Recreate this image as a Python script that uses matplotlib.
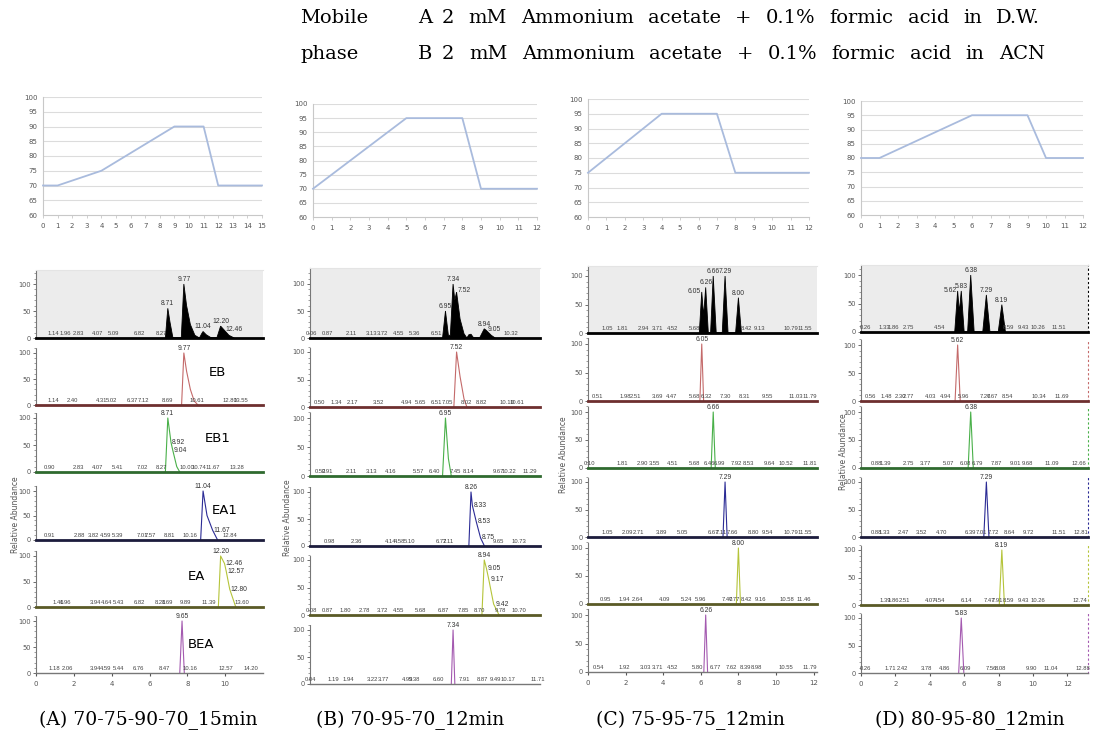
import matplotlib
matplotlib.use('Agg')
import matplotlib.pyplot as plt
from matplotlib.ticker import MultipleLocator

W, H = 1107, 747

# ---- gradient programs (% mobile phase B vs time, min) ----
grad_a_t = [0, 1, 4, 9, 11, 12, 15]
grad_a_b = [70, 70, 75, 90, 90, 70, 70]
grad_b_t = [0, 5, 8, 9, 12]
grad_b_b = [70, 95, 95, 70, 70]
grad_c_t = [0, 4, 7, 8, 12]
grad_c_b = [75, 95, 95, 75, 75]
grad_d_t = [0, 1, 6, 9, 10, 12]
grad_d_b = [80, 80, 95, 95, 80, 80]
grad_xmax = [15, 12, 12, 12]

compounds = ['EB', 'EB1', 'EA1', 'EA', 'BEA']
captions = ['(A) 70-75-90-70_15min', '(B) 70-95-70_12min',
            '(C) 75-95-75_12min', '(D) 80-95-80_12min']
header_1 = ['Mobile', 'A', '2 mM Ammonium acetate + 0.1% formic acid in D.W.']
header_2 = ['phase', 'B', '2 mM Ammonium acetate + 0.1% formic acid in ACN']

# ---- chromatograms: [TIC, EB, EB1, EA1, EA, BEA] ----
# vertex times / relative intensities, labelled peak RTs, baseline RT labels
a_t = [[8.55, 8.71, 8.85, 9.05, 9.6, 9.77, 9.95, 10.2, 10.5, 10.8, 10.95, 11.04, 11.25, 11.6,
        11.95, 12.2, 12.46, 12.75, 13.1],
       [9.62, 9.77, 9.95, 10.2, 10.45, 10.7],
       [8.55, 8.71, 8.92, 9.04, 9.3, 9.5],
       [10.88, 11.04, 11.3, 11.67, 12.0],
       [12.05, 12.20, 12.46, 12.57, 12.80, 13.2],
       [9.5, 9.65, 9.8]]
a_i = [[0, 55, 30, 0, 0, 100, 60, 25, 5, 0, 8, 12, 6, 0, 0, 22, 14, 5, 0],
       [0, 100, 65, 30, 8, 0],
       [0, 100, 55, 40, 10, 0],
       [0, 100, 50, 20, 0],
       [0, 100, 85, 70, 35, 0],
       [0, 100, 0]]
a_pk = [[8.71, 9.77, 11.04, 12.20, 12.46], [9.77], [8.71, 8.92, 9.04], [11.04, 11.67],
        [12.20, 12.46, 12.57, 12.80], [9.65]]
a_rt = [[1.14, 1.96, 2.83, 4.07, 5.09, 6.82, 8.27],
        [1.14, 2.40, 4.31, 5.02, 6.37, 7.12, 8.69, 10.61, 12.80, 13.55],
        [0.90, 2.83, 4.07, 5.41, 7.02, 8.27, 10.00, 10.74, 11.67, 13.28],
        [0.91, 2.88, 3.82, 4.59, 5.39, 7.01, 7.57, 8.81, 10.16, 12.84],
        [1.46, 1.96, 3.94, 4.64, 5.43, 6.82, 8.21, 8.69, 9.89, 11.39, 13.60],
        [1.18, 2.06, 3.94, 4.59, 5.44, 6.76, 8.47, 10.16, 12.57, 14.20]]

b_t = [[6.8, 6.95, 7.1, 7.2, 7.34, 7.43, 7.52, 7.7, 7.9, 8.05, 8.15, 8.26, 8.4, 8.7, 8.94, 9.05,
        9.3, 9.5],
       [7.38, 7.52, 7.7, 7.9, 8.05],
       [6.8, 6.95, 7.1, 7.25],
       [8.15, 8.26, 8.33, 8.53, 8.75, 8.95],
       [8.82, 8.94, 9.05, 9.17, 9.42, 9.7],
       [7.25, 7.34, 7.43]]
b_i = [[0, 50, 5, 5, 100, 70, 85, 35, 8, 0, 6, 7, 0, 0, 17, 14, 5, 0],
       [0, 100, 55, 15, 0],
       [0, 100, 30, 0],
       [0, 100, 75, 45, 15, 0],
       [0, 100, 85, 65, 20, 0],
       [0, 100, 0]]
b_pk = [[6.95, 7.34, 7.52, 8.94, 9.05], [7.52], [6.95], [8.26, 8.33, 8.53, 8.75],
        [8.94, 9.05, 9.17, 9.42], [7.34]]
b_rt = [[0.06, 0.87, 2.11, 3.13, 3.72, 4.55, 5.36, 6.51, 10.32],
        [0.50, 1.34, 2.17, 3.52, 4.94, 5.65, 6.51, 7.05, 8.02, 8.82, 10.10, 10.61],
        [0.52, 0.91, 2.11, 3.13, 4.16, 5.57, 6.40, 7.45, 8.14, 9.67, 10.22, 11.29],
        [0.98, 2.36, 4.14, 4.58, 5.10, 6.72, 7.11, 9.65, 10.73],
        [0.08, 0.87, 1.80, 2.78, 3.72, 4.55, 5.68, 6.87, 7.85, 8.70, 9.78, 10.70],
        [0.04, 1.19, 1.94, 3.22, 3.77, 4.99, 5.38, 6.60, 7.91, 8.87, 9.49, 10.17, 11.71]]

c_t = [[5.92, 6.05, 6.15, 6.26, 6.4, 6.52, 6.66, 6.82, 7.14, 7.29, 7.45, 7.85, 8.0, 8.16],
       [5.95, 6.05, 6.15],
       [6.55, 6.66, 6.77],
       [7.18, 7.29, 7.40],
       [7.89, 8.00, 8.11],
       [6.16, 6.26, 6.36]]
c_i = [[0, 72, 30, 80, 0, 0, 100, 0, 0, 100, 0, 0, 62, 0],
       [0, 100, 0], [0, 100, 0], [0, 100, 0], [0, 100, 0], [0, 100, 0]]
c_pk = [[6.05, 6.26, 6.66, 7.29, 8.00], [6.05], [6.66], [7.29], [8.00], [6.26]]
c_rt = [[1.05, 1.81, 2.94, 3.71, 4.52, 5.68, 8.42, 9.13, 10.79, 11.55],
        [0.51, 1.98, 2.51, 3.69, 4.47, 5.68, 6.32, 7.30, 8.31, 9.55, 11.03, 11.79],
        [0.10, 1.81, 2.90, 3.55, 4.51, 5.68, 6.46, 6.99, 7.92, 8.53, 9.64, 10.52, 11.81],
        [1.05, 2.09, 2.71, 3.89, 5.05, 6.67, 7.11, 7.66, 8.80, 9.54, 10.79, 11.55],
        [0.95, 1.94, 2.64, 4.09, 5.24, 5.96, 7.40, 7.77, 8.42, 9.16, 10.58, 11.46],
        [0.54, 1.92, 3.03, 3.71, 4.52, 5.80, 6.77, 7.62, 8.39, 8.98, 10.55, 11.79]]

d_t = [[5.45, 5.62, 5.72, 5.83, 6.0, 6.2, 6.38, 6.58, 7.08, 7.29, 7.5, 7.98, 8.19, 8.4],
       [5.47, 5.62, 5.77],
       [6.23, 6.38, 6.53],
       [7.14, 7.29, 7.44],
       [8.04, 8.19, 8.34],
       [5.68, 5.83, 5.98]]
d_i = [[0, 72, 35, 72, 0, 0, 100, 0, 0, 65, 0, 0, 48, 0],
       [0, 100, 0], [0, 100, 0], [0, 100, 0], [0, 100, 0], [0, 100, 0]]
d_pk = [[5.62, 5.83, 6.38, 7.29, 8.19], [5.62], [6.38], [7.29], [8.19], [5.83]]
d_rt = [[0.26, 1.33, 1.86, 2.75, 4.54, 8.59, 9.43, 10.26, 11.51],
        [0.56, 1.48, 2.30, 2.77, 4.03, 4.94, 5.96, 7.26, 7.67, 8.54, 10.34, 11.69],
        [0.88, 1.39, 2.75, 3.77, 5.07, 6.08, 6.79, 7.87, 9.01, 9.68, 11.09, 12.66],
        [0.88, 1.33, 2.47, 3.52, 4.70, 6.39, 7.01, 7.72, 8.64, 9.72, 11.51, 12.81],
        [1.39, 1.86, 2.51, 4.07, 4.54, 6.14, 7.47, 7.91, 8.59, 9.43, 10.26, 12.74],
        [0.26, 1.71, 2.42, 3.78, 4.86, 6.09, 7.56, 8.08, 9.90, 11.04, 12.88]]

# time axis of the chromatograms, and the tick labels printed under them
chrom_xmax = [15.0, 11.8, 12.18, 13.2]
a_ticks = [0, 2.5, 5, 7.5, 10, 12.5]
a_ticklabels = ['0', '2', '4', '6', '8', '10']
cd_ticks = [0, 2, 4, 6, 8, 10, 12]

# ---- layout (pixels) ----
grad_box = [(43, 97, 262, 215), (313, 104, 537, 217), (588, 99, 809, 217), (861, 101, 1083, 215)]
chrom_lr = [(36, 263), (310, 540), (588, 817), (861, 1088)]
chrom_tic_top = [270, 268, 266, 265]
chrom_rows = [[(284, 338), (353, 405), (418, 472), (491, 540), (556, 607), (621, 673)],
              [(284, 338), (352, 407), (418, 476), (492, 546), (560, 615), (630, 684)],
              [(276, 333), (344, 401), (412, 468), (482, 537), (548, 604), (615, 672)],
              [(275, 332), (345, 401), (412, 468), (482, 537), (550, 605), (618, 673)]]
name_pos_a = [(12.0, 62), (12.0, 62), (12.5, 60), (10.6, 60), (10.9, 55)]
ylab_pos = [(16, 515), (287, 518), (563, 455), (843, 452)]
caption_x = [148, 410, 690, 970]

line_colors = ['black', '#c46a6a', '#49b049', '#2b2b95', '#b5c43a', '#a45ab0']
base_colors = ['black', '#6e2f2f', '#2f6a2f', '#1c1c3c', '#5a5a26', '#6f6a76']
small_font = 'Liberation Sans'


def add_ax(l, t, r, b):
    return fig.add_axes([l / W, 1 - b / H, (r - l) / W, (b - t) / H])


def justify(words, x0, x1, y, size):
    # spread the words of one header line between x0 and x1 (pixels)
    rend = fig.canvas.get_renderer()
    objs = [fig.text(0, 1 - y / H, w, fontsize=size, family='DejaVu Serif', va='center')
            for w in words]
    widths = [o.get_window_extent(rend).width for o in objs]
    gap = (x1 - x0 - sum(widths)) / (len(words) - 1)
    x = x0
    for o, w in zip(objs, widths):
        o.set_x(x / W)
        x += w + gap


def draw_gradient(ax, t, b, xmax):
    ax.plot(t, b, color='#a9bbdd', lw=1.3, clip_on=False, zorder=3)
    ax.set_xlim(0, xmax)
    ax.set_ylim(60, 100)
    ax.set_yticks(range(60, 101, 5))
    ax.set_xticks(range(0, xmax + 1))
    for y in range(65, 101, 5):
        ax.axhline(y, color='#dcdcdc', lw=0.8, zorder=1)
    for s in ['top', 'right']:
        ax.spines[s].set_visible(False)
    for s in ['left', 'bottom']:
        ax.spines[s].set_color('#c8c8c8')
    ax.tick_params(labelsize=5, colors='#555555', length=2, width=0.6, pad=4)
    ax.tick_params(axis='x', colors='#c8c8c8', labelcolor='#555555')
    ax.tick_params(axis='y', length=0)


def draw_trace(ax, t, i, pk, rt, k, xmax, ymax):
    col = line_colors[k]
    if k == 0:
        ax.set_facecolor('#ececec')
        ax.fill(t, i, color='black', lw=0.6)
    else:
        ax.plot(t, i, color=col, lw=0.8)
    ax.set_xlim(0, xmax)
    ax.set_ylim(0, ymax)
    moved_left = False
    for n, p in enumerate(pk):
        y = i[t.index(p)] if p in t else 12
        lab = '%.2f' % p
        kw = dict(fontsize=4.9, color='#333333', clip_on=False, family=small_font)
        nxt = pk[n + 1] if n + 1 < len(pk) else None
        prv = pk[n - 1] if n > 0 else None
        if k > 0 and n > 0:
            ax.text(p + 0.08, y, lab, ha='left', va='center', **kw)
        elif k == 0 and nxt is not None and nxt - p < 0.3 and i[t.index(nxt)] >= y:
            ax.text(p - 0.04, y - 6, lab, ha='right', va='bottom', **kw)
            moved_left = True
        elif k == 0 and prv is not None and p - prv < 0.3 and not moved_left:
            ax.text(p + 0.06, y - 4, lab, ha='left', va='bottom', **kw)
        else:
            ax.text(p, y + 2, lab, ha='center', va='bottom', **kw)
            moved_left = False
    for r in rt:
        ax.text(r, 4, '%.2f' % r, fontsize=4.2, ha='center', va='bottom', color='#444444',
                family=small_font)
    ax.set_yticks([0, 50, 100])
    ax.yaxis.set_minor_locator(MultipleLocator(10))
    ax.tick_params(axis='y', labelsize=4.8, length=2.5, width=0.6, pad=1, colors='#555555')
    ax.tick_params(axis='y', which='minor', length=1.5, width=0.5, colors='#777777')
    ax.spines['left'].set_color('#777777')
    ax.spines['left'].set_linestyle((0, (1, 1)))
    ax.spines['bottom'].set_color(base_colors[k])
    ax.spines['bottom'].set_linewidth(2.0)
    ax.spines['top'].set_visible(k == 0)
    ax.spines['top'].set_color('#e4e4e4')
    ax.spines['right'].set_visible(False)
    ax.set_xticks([])


fig = plt.figure(figsize=(W / 100, H / 100), dpi=100)

# header
for row, yy, x_end in [(header_1, 18, 1040), (header_2, 54, 1045)]:
    fig.text(300 / W, 1 - yy / H, row[0], fontsize=14, family='DejaVu Serif', va='center')
    fig.text(418 / W, 1 - yy / H, row[1], fontsize=14, family='DejaVu Serif', va='center')
    justify(row[2].split(), 442, x_end, yy, 14)

grads = [(grad_a_t, grad_a_b), (grad_b_t, grad_b_b), (grad_c_t, grad_c_b), (grad_d_t, grad_d_b)]
chroms = [(a_t, a_i, a_pk, a_rt), (b_t, b_i, b_pk, b_rt),
          (c_t, c_i, c_pk, c_rt), (d_t, d_i, d_pk, d_rt)]

for c in range(4):
    ax = add_ax(*grad_box[c])
    draw_gradient(ax, grads[c][0], grads[c][1], grad_xmax[c])

    left, right = chrom_lr[c]
    tt, ii, pp, rr = chroms[c]
    for k in range(6):
        y100, base = chrom_rows[c][k]
        if k == 0:
            top = chrom_tic_top[c]
        else:
            top = y100 - 0.1 * (base - y100)
        ymax = 100.0 * (base - top) / (base - y100)
        ax = add_ax(left, top, right, base)
        draw_trace(ax, tt[k], ii[k], pp[k], rr[k], k, chrom_xmax[c], ymax)
        if c == 3:
            ax.spines['right'].set_visible(True)
            ax.spines['right'].set_color(line_colors[k])
            ax.spines['right'].set_linestyle((0, (1, 3)))
        if c == 0 and k > 0:
            nx, ny = name_pos_a[k - 1]
            ax.text(nx, ny, compounds[k - 1], fontsize=9.5, ha='center', va='center')
        if k == 5:
            ax.spines['bottom'].set_linewidth(1.0)
            ax.spines['bottom'].set_color('#777777')
            if c == 0:
                ax.set_xticks(a_ticks)
                ax.set_xticklabels(a_ticklabels)
            elif c > 1:
                ax.set_xticks(cd_ticks)
            ax.tick_params(axis='x', labelsize=5, length=2, colors='#555555')

    fig.text(ylab_pos[c][0] / W, 1 - ylab_pos[c][1] / H, 'Relative Abundance',
             rotation=90, fontsize=5.5, color='#555555', ha='center', va='center')
    fig.text(caption_x[c] / W, 1 - 720 / H, captions[c], fontsize=13.5, family='DejaVu Serif',
             ha='center', va='center')

fig.savefig('out.png', dpi=100)
